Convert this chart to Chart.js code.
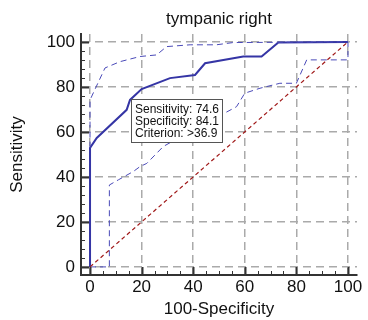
<!DOCTYPE html>
<html>
<head>
<meta charset="utf-8">
<script src="https://cdn.jsdelivr.net/npm/chart.js@4.4.0/dist/chart.umd.min.js"></script>
<style>
  body { margin: 0; background: #fff; }
</style>
</head>
<body>
<canvas id="rocChart" width="368" height="320"></canvas>
<script>
const chartTitle = 'tympanic right';
const xTitle = '100-Specificity';
const yTitle = 'Sensitivity';
const tickValues = [0, 20, 40, 60, 80, 100];

// ROC curve (100-specificity, sensitivity)
const rocX = [0, 0, 2.6, 14.2, 15.5, 20, 31, 40.7, 44.6, 59.4, 66.5, 73, 100];
const rocY = [0, 52.9, 57.3, 69.8, 74.2, 79, 83.9, 85.3, 90.5, 93.5, 93.5, 99.7, 100];

// confidence bounds
const upperX = [0, 0, 5.8, 11.6, 19.4, 25.8, 29.7, 38.8, 49, 55.5, 100];
const upperY = [53, 74.2, 88.4, 91.2, 93.5, 94.2, 97.9, 98.7, 98.7, 99.7, 100];
const lowerX = [0, 7.5, 7.5, 11, 16.8, 19.4, 22, 28.4, 40, 50, 56.8, 60, 65.9, 73.6, 80, 84, 100, 100];
const lowerY = [0, 0, 36.4, 38.7, 42.4, 44.6, 46, 53.5, 61, 67, 71.2, 77.2, 79.4, 81.6, 81.6, 92, 92, 100];

// reference line
const diagX = [0, 100];
const diagY = [0, 100];

// optimal criterion
const critSens = 74.6;
const critSpec = 84.1;
const critLabel = '>36.9';

function toPoints(xs, ys) {
  return xs.map((x, i) => ({ x: x, y: ys[i] }));
}

// title centred over the plot, not the canvas
const plotTitle = {
  id: 'plotTitle',
  afterDraw(chart) {
    const ctx = chart.ctx;
    const area = chart.chartArea;
    ctx.save();
    ctx.fillStyle = '#111';
    ctx.font = '17px "Liberation Sans", Arial, sans-serif';
    ctx.textAlign = 'center';
    ctx.textBaseline = 'middle';
    ctx.fillText(chartTitle, (area.left + area.right) / 2, 19);
    ctx.restore();
  }
};

// inward major/minor tick marks on both axes
const tickMarks = {
  id: 'tickMarks',
  afterDraw(chart) {
    const ctx = chart.ctx;
    const xs = chart.scales.x, ys = chart.scales.y;
    const area = chart.chartArea;
    ctx.save();
    ctx.strokeStyle = '#333';
    for (let v = 0; v <= 100; v += 5) {
      const major = v % 20 === 0;
      const px = Math.round(xs.getPixelForValue(v)) + 0.5;
      ctx.lineWidth = major ? 2 : 1;
      ctx.beginPath();
      ctx.moveTo(px, area.bottom);
      ctx.lineTo(px, area.bottom - (major ? 8 : 4));
      ctx.stroke();
    }
    for (let v = 0; v <= 100; v += 4) {
      const major = v % 20 === 0;
      const py = Math.round(ys.getPixelForValue(v)) + 0.5;
      ctx.lineWidth = major ? 2 : 1;
      ctx.beginPath();
      ctx.moveTo(area.left, py);
      ctx.lineTo(area.left + (major ? 8 : 4), py);
      ctx.stroke();
    }
    ctx.restore();
  }
};

// text box at the criterion point
const criterionBox = {
  id: 'criterionBox',
  afterDatasetsDraw(chart) {
    const ctx = chart.ctx;
    const left = Math.round(chart.scales.x.getPixelForValue(100 - critSpec)) + 0.5;
    const top = Math.round(chart.scales.y.getPixelForValue(critSens)) + 0.5;
    const lines = ['Sensitivity: ' + critSens, 'Specificity: ' + critSpec, 'Criterion: ' + critLabel];
    ctx.save();
    ctx.fillStyle = '#fff';
    ctx.strokeStyle = '#555';
    ctx.lineWidth = 1;
    ctx.fillRect(left, top, 91, 43);
    ctx.strokeRect(left, top, 91, 43);
    ctx.fillStyle = '#111';
    ctx.font = '12px "Liberation Sans", Arial, sans-serif';
    ctx.textBaseline = 'middle';
    lines.forEach((t, i) => ctx.fillText(t, left + 3.5, top + 10.5 + i * 12));
    ctx.restore();
  }
};

const ctx = document.getElementById('rocChart').getContext('2d');
Chart.defaults.font.family = '"Liberation Sans", Arial, sans-serif';
Chart.defaults.color = '#111';

const rocChart = new Chart(ctx, {
  type: 'scatter',
  data: {
    datasets: [
      {
        label: 'diagonal',
        data: toPoints(diagX, diagY),
        showLine: true,
        borderColor: '#a01818',
        borderWidth: 1.2,
        borderDash: [4, 3],
        pointRadius: 0
      },
      {
        label: 'upper',
        data: toPoints(upperX, upperY),
        showLine: true,
        borderColor: '#4a4ab8',
        borderWidth: 1,
        borderDash: [6, 4],
        pointRadius: 0
      },
      {
        label: 'lower',
        data: toPoints(lowerX, lowerY),
        showLine: true,
        borderColor: '#4a4ab8',
        borderWidth: 1,
        borderDash: [6, 4],
        pointRadius: 0
      },
      {
        label: 'ROC',
        data: toPoints(rocX, rocY),
        showLine: true,
        borderColor: '#3535a5',
        borderWidth: 2,
        pointRadius: 0
      }
    ]
  },
  options: {
    responsive: false,
    animation: false,
    layout: { padding: { left: 0, right: 11, top: 34, bottom: 0 } },
    plugins: {
      legend: { display: false },
      tooltip: { enabled: false },
      title: { display: false }
    },
    scales: {
      x: {
        type: 'linear',
        min: -3.5,
        max: 103.5,
        afterBuildTicks: (scale) => { scale.ticks = tickValues.map(v => ({ value: v })); },
        afterFit: (scale) => { scale.height = 45; },
        ticks: { font: { size: 17 }, color: '#111', padding: 2, maxRotation: 0 },
        grid: { color: '#aaa', lineWidth: 1.5, drawTicks: false },
        border: { display: true, color: '#333', width: 2, dash: [8, 5] },
        title: { display: true, text: xTitle, font: { size: 17 }, color: '#111', padding: { top: 0, bottom: 0 } }
      },
      y: {
        type: 'linear',
        min: -3.6,
        max: 103.5,
        afterBuildTicks: (scale) => { scale.ticks = tickValues.map(v => ({ value: v })); },
        afterFit: (scale) => { scale.width = 81; },
        ticks: { font: { size: 17 }, color: '#111', padding: 6 },
        grid: { color: '#aaa', lineWidth: 1.5, drawTicks: false },
        border: { display: true, color: '#333', width: 2, dash: [8, 5] },
        title: { display: true, text: yTitle, font: { size: 17 }, color: '#111', padding: { top: 7, bottom: 0 } }
      }
    }
  },
  plugins: [criterionBox, tickMarks, plotTitle]
});
</script>
</body>
</html>
